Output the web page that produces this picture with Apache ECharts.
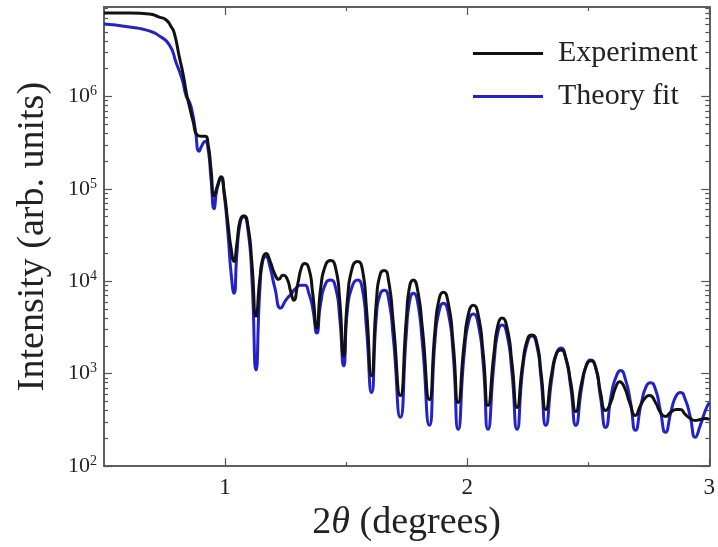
<!DOCTYPE html>
<html>
<head>
<meta charset="utf-8">
<script src="https://cdn.jsdelivr.net/npm/echarts@6/dist/echarts.min.js"></script>
<style>
html,body{margin:0;padding:0;background:#fff;}
#c{width:718px;height:547px;}
</style>
</head>
<body>
<div id="c"></div>
<script>
// Experiment (black)
const expTheta = [0.50,0.605,0.687,0.728,0.757,0.778,0.790,0.811,0.827,0.840,0.852,0.868,0.885,0.901,0.918,0.930,0.942,0.955,0.967,0.984,0.996,1.012,1.025,1.037,1.049,1.062,1.078,1.095,1.111,1.128,1.144,1.156,1.169,1.185,1.206,1.222,1.239,1.255,1.272,1.284,1.300,1.317,1.329,1.346,1.362,1.379,1.395,1.416,1.436,1.457,1.473,1.490,1.506,1.527,1.547,1.568,1.584,1.605,1.626,1.642,1.658,1.675,1.695,1.724,1.749,1.761,1.778,1.794,1.815,1.844,1.868,1.885,1.901,1.922,1.942,1.963,1.988,2.008,2.025,2.045,2.066,2.086,2.111,2.128,2.144,2.165,2.185,2.206,2.230,2.251,2.267,2.288,2.305,2.325,2.350,2.370,2.387,2.407,2.428,2.449,2.473,2.494,2.510,2.531,2.551,2.572,2.593,2.613,2.630,2.650,2.671,2.695,2.716,2.737,2.753,2.778,2.798,2.819,2.840,2.864,2.881,2.901,2.922,2.942,2.963,2.984,3.0];
const expIntensity = [8.0e6,8.0e6,7.8e6,7.24e6,6.73e6,5.66e6,4.88e6,2.69e6,1.73e6,1.10e6,8.0e5,5.38e5,3.81e5,3.72e5,3.72e5,3.05e5,1.64e5,8.41e4,1.05e5,1.35e5,9.51e4,4.21e4,2.26e4,1.64e4,2.56e4,4.53e4,5.13e4,3.90e4,1.56e4,4.21e3,1.08e4,1.77e4,2.00e4,1.68e4,1.19e4,1.05e4,1.16e4,1.08e4,7.62e3,6.25e3,9.29e3,1.45e4,1.56e4,1.38e4,7.43e3,3.13e3,8.41e3,1.52e4,1.68e4,1.38e4,6.56e3,1.56e3,6.56e3,1.45e4,1.64e4,1.31e4,5.13e3,951,6.56e3,1.22e4,1.31e4,1.03e4,3.53e3,580,4.00e3,8.41e3,1.03e4,8.41e3,3.13e3,525,3.13e3,6.56e3,7.62e3,5.80e3,2.15e3,488,2.15e3,4.75e3,5.52e3,4.42e3,1.68e3,453,1.68e3,3.45e3,4.00e3,3.13e3,1.31e3,431,1.31e3,2.44e3,2.62e3,2.15e3,1.03e3,410,1.03e3,1.68e3,1.81e3,1.49e3,800,390,800,1.25e3,1.38e3,1.16e3,625,400,488,707,820,707,488,353,453,552,580,488,381,345,381,410,410,362,328,312,320,328,320];
// Theory fit (blue)
const fitTheta = [0.50,0.605,0.687,0.728,0.770,0.798,0.823,0.840,0.852,0.864,0.877,0.893,0.905,0.918,0.930,0.942,0.955,0.967,0.984,0.996,1.012,1.025,1.037,1.049,1.062,1.078,1.095,1.111,1.128,1.144,1.156,1.169,1.185,1.206,1.230,1.251,1.272,1.292,1.313,1.329,1.346,1.362,1.379,1.395,1.416,1.436,1.457,1.473,1.490,1.506,1.527,1.547,1.568,1.584,1.605,1.626,1.642,1.658,1.675,1.695,1.724,1.749,1.761,1.778,1.794,1.815,1.844,1.868,1.885,1.901,1.922,1.942,1.963,1.988,2.008,2.025,2.045,2.066,2.086,2.111,2.128,2.144,2.165,2.185,2.206,2.230,2.251,2.267,2.288,2.305,2.325,2.350,2.370,2.387,2.407,2.428,2.449,2.473,2.494,2.510,2.531,2.551,2.572,2.597,2.617,2.634,2.654,2.675,2.695,2.720,2.741,2.757,2.778,2.798,2.819,2.844,2.864,2.881,2.901,2.922,2.942,2.963,2.984,3.0];
const fitIntensity = [6.10e6,5.66e6,5.13e6,4.53e6,3.62e6,2.32e6,1.52e6,1.0e6,8.83e5,6.90e5,4.42e5,2.56e5,2.97e5,3.28e5,2.69e5,1.28e5,6.10e4,1.0e5,1.28e5,8.83e4,3.28e4,1.22e4,7.43e3,2.0e4,4.21e4,5.00e4,3.53e4,1.08e4,1.10e3,8.41e3,1.68e4,1.86e4,1.45e4,8.41e3,5.13e3,6.25e3,7.24e3,8.41e3,9.06e3,9.06e3,7.43e3,5.13e3,2.76e3,5.80e3,9.51e3,1.03e4,8.41e3,4.21e3,1.22e3,5.13e3,9.06e3,1.03e4,8.00e3,3.13e3,625,4.53e3,7.43e3,8.00e3,6.56e3,2.44e3,337,2.76e3,5.80e3,7.43e3,6.25e3,2.15e3,276,2.44e3,4.88e3,5.80e3,4.53e3,1.68e3,250,1.68e3,3.81e3,4.42e3,3.53e3,1.31e3,250,1.31e3,2.90e3,3.37e3,2.62e3,1.03e3,250,1.16e3,2.26e3,2.56e3,2.00e3,906,276,906,1.68e3,1.90e3,1.49e3,707,276,707,1.28e3,1.41e3,1.16e3,552,262,625,951,1.08e3,862,488,244,488,743,800,673,400,232,410,580,625,525,337,205,276,400,488];

const xTickLabels = [1, 2, 3];
const xMinorTicks = [1.5, 2.5];
const yTickLabels = [1e2, 1e3, 1e4, 1e5, 1e6];
const seriesNames = ['Experiment', 'Theory fit'];

const X_MIN = 0.5, X_MAX = 3, Y_MIN = 100, Y_MAX = 9.3e6;
const yMinor = [];
for (let d = 2; d <= 6; d++) for (let k = 2; k <= 9; k++) { const v = k * Math.pow(10, d); if (v < Y_MAX) yMinor.push(v); }

const FONT = 'Liberation Serif';
const AXC = '#555555';

function xAx(pos, ticks, len, labels) {
  return {
    type: 'value', position: pos, min: X_MIN, max: X_MAX,
    axisLine: { show: true, onZero: false, lineStyle: { color: AXC, width: 1.5 } },
    axisTick: { show: true, inside: true, length: len, customValues: ticks, lineStyle: { color: AXC, width: 1.2 } },
    axisLabel: labels ? { show: true, customValues: xTickLabels, margin: 10, fontFamily: FONT, fontSize: 23, color: '#222' } : { show: false },
    splitLine: { show: false }
  };
}
function yAx(pos, ticks, len, labels) {
  return {
    type: 'log', logBase: 10, position: pos, min: Y_MIN, max: Y_MAX,
    axisLine: { show: true, onZero: false, lineStyle: { color: AXC, width: 1.5 } },
    axisTick: { show: true, inside: true, length: len, customValues: ticks, lineStyle: { color: AXC, width: 1.2 } },
    axisLabel: labels ? {
      show: true, customValues: yTickLabels, margin: 7,
      formatter: function (v) { const e = Math.round(Math.log10(v)); return '{b|10}{s|' + e + '}'; },
      rich: {
        b: { fontFamily: FONT, fontSize: 22, color: '#222', lineHeight: 24 },
        s: { fontFamily: FONT, fontSize: 14, color: '#222', verticalAlign: 'top', lineHeight: 14, padding: [0, 0, 10, 0] }
      }
    } : { show: false },
    splitLine: { show: false }
  };
}

const xAxes = [xAx('bottom', xTickLabels, 8, true), xAx('bottom', xMinorTicks, 4, false), xAx('top', xTickLabels, 8, false), xAx('top', xMinorTicks, 4, false)];
xAxes[0].name = '{n|2}{i|θ}{n| (degrees)}';
xAxes[0].nameLocation = 'middle';
xAxes[0].nameGap = 35;
xAxes[0].nameTextStyle = { rich: { n: { fontFamily: FONT, fontSize: 38, color: '#222' }, i: { fontFamily: FONT, fontSize: 38, fontStyle: 'italic', color: '#222' } } };

const yAxes = [yAx('left', yTickLabels, 8, true), yAx('left', yMinor, 4, false), yAx('right', yTickLabels, 8, false), yAx('right', yMinor, 4, false)];
yAxes[0].name = 'Intensity (arb. units)';
yAxes[0].nameLocation = 'middle';
yAxes[0].nameGap = 52;
yAxes[0].nameTextStyle = { fontFamily: FONT, fontSize: 38, color: '#222' };

const chart = echarts.init(document.getElementById('c'), null, { renderer: 'canvas' });
chart.setOption({
  backgroundColor: '#fff',
  animation: false,
  grid: { left: 104, right: 6, top: 7, bottom: 77, containLabel: false },
  xAxis: xAxes,
  yAxis: yAxes,
  legend: {
    data: seriesNames, orient: 'vertical', left: 468, top: 33,
    icon: 'rect', itemWidth: 70, itemHeight: 3, itemGap: 12,
    textStyle: { fontFamily: FONT, fontSize: 30, color: '#222', padding: [0, 0, 0, 10], lineHeight: 31 }
  },
  series: [
    {
      name: seriesNames[1], type: 'line', xAxisIndex: 0, yAxisIndex: 0,
      showSymbol: false, smooth: 0.6,
      lineStyle: { color: '#2222c8', width: 3 }, itemStyle: { color: '#2222c8' },
      data: fitTheta.map((t, i) => [t, fitIntensity[i]])
    },
    {
      name: seriesNames[0], type: 'line', xAxisIndex: 0, yAxisIndex: 0,
      showSymbol: false, smooth: 0.6,
      lineStyle: { color: '#111111', width: 3 }, itemStyle: { color: '#111111' },
      data: expTheta.map((t, i) => [t, expIntensity[i]])
    }
  ]
});
</script>
</body>
</html>
